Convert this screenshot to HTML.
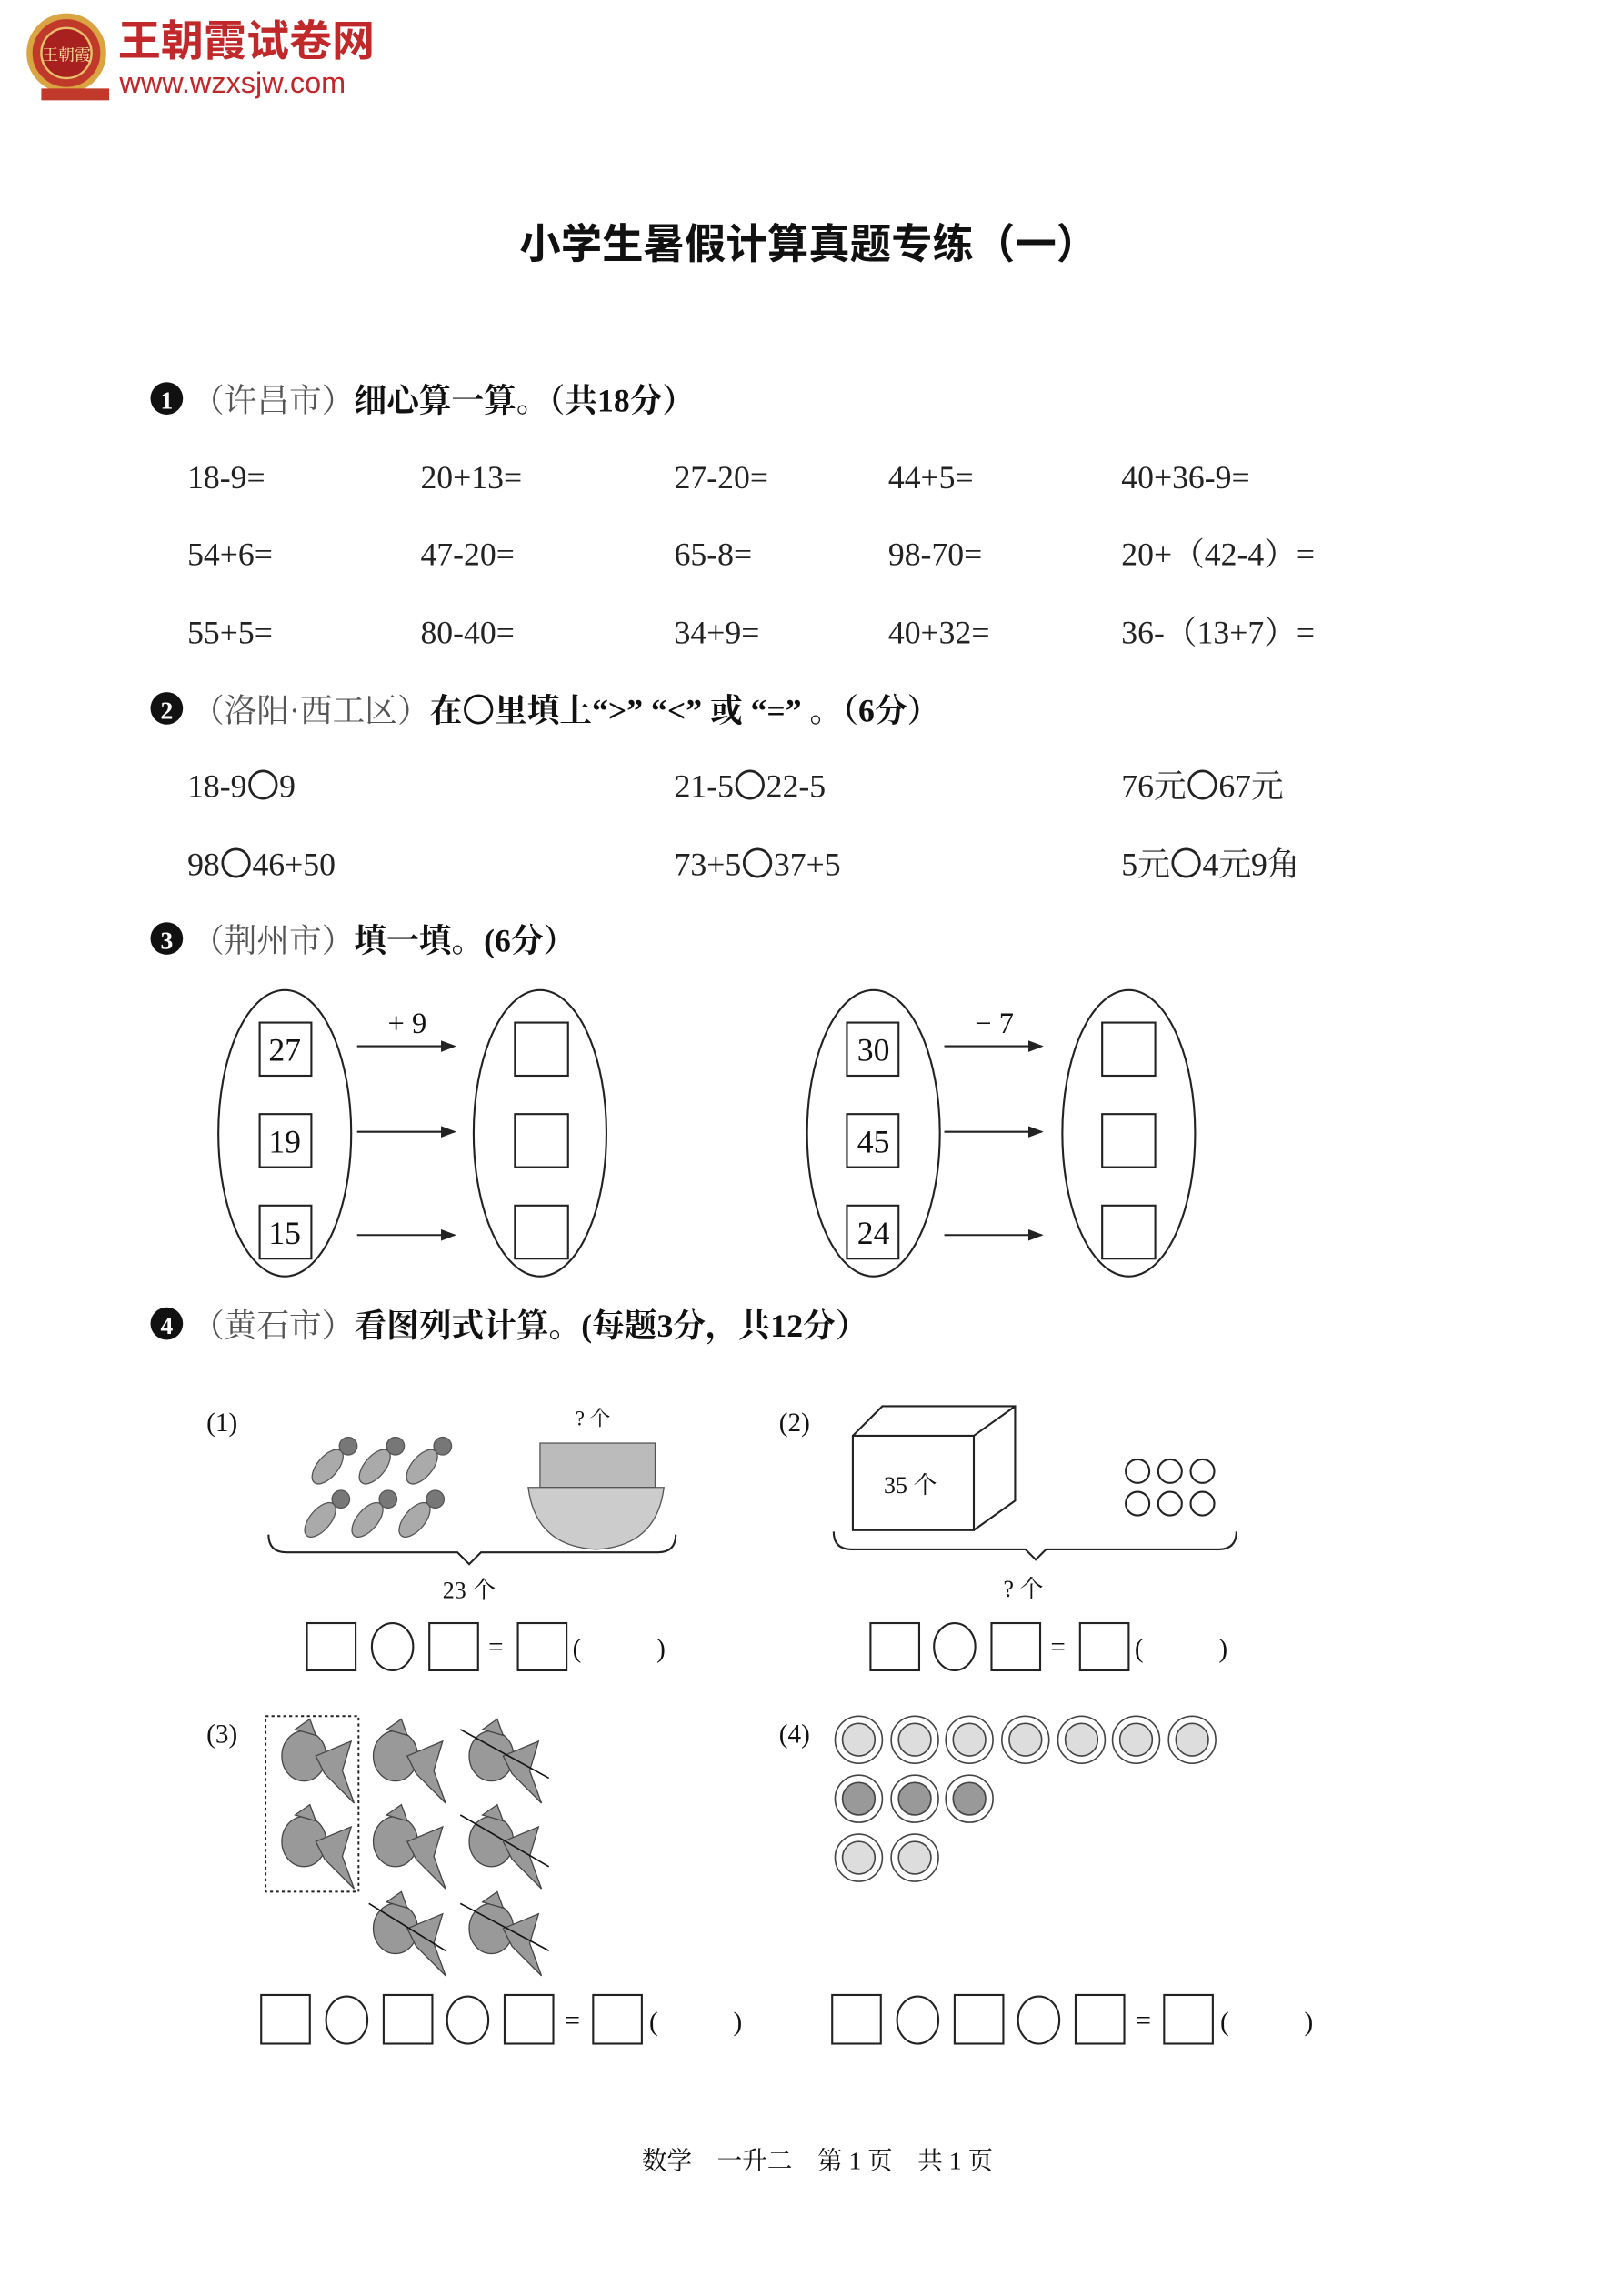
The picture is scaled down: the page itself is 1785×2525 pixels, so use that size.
<!DOCTYPE html>
<html><head><meta charset="utf-8"><style>
html,body{margin:0;padding:0;background:#fff;}
svg{display:block;}
text{font-family:"Liberation Serif","Noto Serif CJK SC",serif;fill:#111;}
.h{font-family:"Liberation Serif","Noto Serif CJK SC",serif;font-size:22px;}
.b{font-weight:bold;}
.g{fill:#555;}
.e{font-size:22px;fill:#222;}
.c{font-family:"Noto Sans CJK SC",sans-serif;font-weight:normal;}
.bx{fill:none;stroke:#222;stroke-width:1.3;}
</style></head><body>
<svg width="1785" height="2525" viewBox="0 0 1100 1556" preserveAspectRatio="none" xmlns="http://www.w3.org/2000/svg">
<circle cx="45" cy="36" r="25" fill="#c0392b" stroke="#d9a441" stroke-width="4"/>
<circle cx="45" cy="36" r="17" fill="#a82020" stroke="#e8c06a" stroke-width="1.5"/>
<text x="45" y="41" font-size="11" text-anchor="middle" style="fill:#ffe9a0">王朝霞</text>
<rect x="28" y="60" width="46" height="8" fill="#c0392b"/>
<text x="80" y="38" font-size="29" font-weight="bold" style="fill:#c0282a;font-family:'Noto Sans CJK SC',sans-serif">王朝霞试卷网</text>
<text x="81" y="63" font-size="20" style="fill:#c0282a;font-family:'Liberation Sans',sans-serif">www.wzxsjw.com</text>
<text x="548" y="175" font-size="28" font-weight="bold" text-anchor="middle" style="font-family:'Noto Sans CJK SC',sans-serif">小学生暑假计算真题专练（一）</text>
<circle cx="113" cy="270" r="11" fill="#111"/><text x="113" y="277" font-size="17" font-weight="bold" text-anchor="middle" style="fill:#fff">1</text>
<text x="130" y="279" class="h"><tspan class="g">（许昌市）</tspan><tspan class="b">细心算一算。（共18分）</tspan></text>
<g class="e">
<text x="127" y="331" class="e">18-9=</text><text x="285" y="331" class="e">20+13=</text><text x="457" y="331" class="e">27-20=</text><text x="602" y="331" class="e">44+5=</text><text x="760" y="331" class="e">40+36-9=</text>
<text x="127" y="383" class="e">54+6=</text><text x="285" y="383" class="e">47-20=</text><text x="457" y="383" class="e">65-8=</text><text x="602" y="383" class="e">98-70=</text><text x="760" y="383" class="e">20+（42-4）=</text>
<text x="127" y="436" class="e">55+5=</text><text x="285" y="436" class="e">80-40=</text><text x="457" y="436" class="e">34+9=</text><text x="602" y="436" class="e">40+32=</text><text x="760" y="436" class="e">36-（13+7）=</text>
</g>
<circle cx="113" cy="480" r="11" fill="#111"/><text x="113" y="487" font-size="17" font-weight="bold" text-anchor="middle" style="fill:#fff">2</text>
<text x="130" y="489" class="h"><tspan class="g">（洛阳·西工区）</tspan><tspan class="b">在<tspan class="c">〇</tspan>里填上“&gt;” “&lt;” 或 “=” 。（6分）</tspan></text>
<text x="127" y="540" class="e">18-9<tspan class="c">〇</tspan>9</text><text x="457" y="540" class="e">21-5<tspan class="c">〇</tspan>22-5</text><text x="760" y="540" class="e">76元<tspan class="c">〇</tspan>67元</text>
<text x="127" y="593" class="e">98<tspan class="c">〇</tspan>46+50</text><text x="457" y="593" class="e">73+5<tspan class="c">〇</tspan>37+5</text><text x="760" y="593" class="e">5元<tspan class="c">〇</tspan>4元9角</text>
<circle cx="113" cy="636" r="11" fill="#111"/><text x="113" y="643" font-size="17" font-weight="bold" text-anchor="middle" style="fill:#fff">3</text>
<text x="130" y="645" class="h"><tspan class="g">（荆州市）</tspan><tspan class="b">填一填。(6分）</tspan></text>
<defs><marker id="ar" markerWidth="8" markerHeight="6" refX="7" refY="3" orient="auto"><path d="M0,0 L8,3 L0,6 z" fill="#222"/></marker></defs>
<g class="bx">
<ellipse cx="193" cy="768" rx="45" ry="97"/><ellipse cx="366" cy="768" rx="45" ry="97"/>
<ellipse cx="592" cy="768" rx="45" ry="97"/><ellipse cx="765" cy="768" rx="45" ry="97"/>
<rect x="176" y="693" width="35" height="36"/><rect x="176" y="755" width="35" height="36"/><rect x="176" y="817" width="35" height="36"/>
<rect x="349" y="693" width="36" height="36"/><rect x="349" y="755" width="36" height="36"/><rect x="349" y="817" width="36" height="36"/>
<rect x="574" y="693" width="35" height="36"/><rect x="574" y="755" width="35" height="36"/><rect x="574" y="817" width="35" height="36"/>
<rect x="747" y="693" width="36" height="36"/><rect x="747" y="755" width="36" height="36"/><rect x="747" y="817" width="36" height="36"/>
<line x1="242" y1="709" x2="308" y2="709" marker-end="url(#ar)"/><line x1="242" y1="767" x2="308" y2="767" marker-end="url(#ar)"/><line x1="242" y1="837" x2="308" y2="837" marker-end="url(#ar)"/>
<line x1="640" y1="709" x2="706" y2="709" marker-end="url(#ar)"/><line x1="640" y1="767" x2="706" y2="767" marker-end="url(#ar)"/><line x1="640" y1="837" x2="706" y2="837" marker-end="url(#ar)"/>
</g>
<g font-size="22" text-anchor="middle">
<text x="193" y="719">27</text><text x="193" y="781">19</text><text x="193" y="843">15</text>
<text x="592" y="719">30</text><text x="592" y="781">45</text><text x="592" y="843">24</text>
<text x="276" y="700" font-size="20">+ 9</text><text x="674" y="700" font-size="20">− 7</text>
</g>
<circle cx="113" cy="897" r="11" fill="#111"/><text x="113" y="904" font-size="17" font-weight="bold" text-anchor="middle" style="fill:#fff">4</text>
<text x="130" y="906" class="h"><tspan class="g">（黄石市）</tspan><tspan class="b">看图列式计算。(每题3分，共12分）</tspan></text>
<text x="140" y="970" font-size="18">(1)</text>
<g fill="#aaa" stroke="#555" stroke-width="0.8">
<ellipse cx="222" cy="994" rx="7" ry="14" transform="rotate(40 222 994)"/><ellipse cx="254" cy="994" rx="7" ry="14" transform="rotate(40 254 994)"/><ellipse cx="286" cy="994" rx="7" ry="14" transform="rotate(40 286 994)"/>
<ellipse cx="217" cy="1030" rx="7" ry="14" transform="rotate(40 217 1030)"/><ellipse cx="249" cy="1030" rx="7" ry="14" transform="rotate(40 249 1030)"/><ellipse cx="281" cy="1030" rx="7" ry="14" transform="rotate(40 281 1030)"/>
<circle cx="236" cy="980" r="6" fill="#777"/><circle cx="268" cy="980" r="6" fill="#777"/><circle cx="300" cy="980" r="6" fill="#777"/>
<circle cx="231" cy="1016" r="6" fill="#777"/><circle cx="263" cy="1016" r="6" fill="#777"/><circle cx="295" cy="1016" r="6" fill="#777"/>
<rect x="366" y="978" width="78" height="30" fill="#bbb"/>
<path d="M358,1008 L450,1008 Q445,1048 404,1050 Q363,1048 358,1008 z" fill="#ccc"/>
</g>
<text x="390" y="966" font-size="14">?  个</text>
<path d="M182,1040 Q182,1052 194,1052 L310,1052 L318,1060 L326,1052 L446,1052 Q458,1052 458,1040" class="bx"/>
<text x="300" y="1083" font-size="16">23 个</text>
<text x="528" y="970" font-size="18">(2)</text>
<g class="bx"><rect x="578" y="973" width="82" height="64"/><path d="M578,973 L598,953 L688,953 L688,1017 L660,1037 M660,973 L688,953"/>
<circle cx="771" cy="997" r="8"/><circle cx="793" cy="997" r="8"/><circle cx="815" cy="997" r="8"/>
<circle cx="771" cy="1019" r="8"/><circle cx="793" cy="1019" r="8"/><circle cx="815" cy="1019" r="8"/>
<path d="M565,1038 Q565,1050 577,1050 L695,1050 L702,1057 L709,1050 L826,1050 Q838,1050 838,1038"/></g>
<text x="599" y="1012" font-size="16">35 个</text>
<text x="680" y="1082" font-size="16">?  个</text>
<g class="bx">
<rect x="208" y="1100" width="33" height="32"/><ellipse cx="266" cy="1116" rx="14" ry="16"/><rect x="291" y="1100" width="33" height="32"/><rect x="351" y="1100" width="33" height="32"/>
<rect x="590" y="1100" width="33" height="32"/><ellipse cx="647" cy="1116" rx="14" ry="16"/><rect x="672" y="1100" width="33" height="32"/><rect x="732" y="1100" width="33" height="32"/>
<rect x="177" y="1352" width="33" height="33"/><ellipse cx="235" cy="1369" rx="14" ry="16"/><rect x="260" y="1352" width="33" height="33"/><ellipse cx="317" cy="1369" rx="14" ry="16"/><rect x="342" y="1352" width="33" height="33"/><rect x="402" y="1352" width="33" height="33"/>
<rect x="564" y="1352" width="33" height="33"/><ellipse cx="622" cy="1369" rx="14" ry="16"/><rect x="647" y="1352" width="33" height="33"/><ellipse cx="704" cy="1369" rx="14" ry="16"/><rect x="729" y="1352" width="33" height="33"/><rect x="789" y="1352" width="33" height="33"/>
</g>
<g font-size="18">
<text x="331" y="1122">=</text><text x="388" y="1123">(</text><text x="445" y="1123">)</text>
<text x="712" y="1122">=</text><text x="769" y="1123">(</text><text x="826" y="1123">)</text>
<text x="383" y="1375">=</text><text x="440" y="1376">(</text><text x="497" y="1376">)</text>
<text x="770" y="1375">=</text><text x="827" y="1376">(</text><text x="884" y="1376">)</text>
</g>
<text x="140" y="1181" font-size="18">(3)</text>
<rect x="180" y="1163" width="63" height="119" fill="none" stroke="#222" stroke-width="1.2" stroke-dasharray="2,2"/>
<g fill="#999" stroke="#444" stroke-width="0.8">
<g id="f"><ellipse cx="206" cy="1190" rx="15" ry="17"/><path d="M214,1190 L238,1180 L232,1200 L240,1222 L220,1202 z"/><path d="M200,1172 L210,1165 L214,1176 z"/></g>
<use href="#f" x="0" y="58"/><use href="#f" x="62" y="0"/><use href="#f" x="62" y="58"/><use href="#f" x="127" y="0"/><use href="#f" x="127" y="58"/><use href="#f" x="62" y="117"/><use href="#f" x="127" y="117"/>
</g>
<g stroke="#111" stroke-width="1"><line x1="312" y1="1172" x2="372" y2="1205"/><line x1="312" y1="1230" x2="372" y2="1265"/><line x1="250" y1="1290" x2="302" y2="1322"/><line x1="312" y1="1290" x2="372" y2="1322"/></g>
<text x="528" y="1181" font-size="18">(4)</text>
<g stroke="#444" stroke-width="1">
<g fill="#fff"><circle cx="582" cy="1179" r="16"/><circle cx="620" cy="1179" r="16"/><circle cx="657" cy="1179" r="16"/><circle cx="695" cy="1179" r="16"/><circle cx="733" cy="1179" r="16"/><circle cx="770" cy="1179" r="16"/><circle cx="808" cy="1179" r="16"/>
<circle cx="582" cy="1219" r="16"/><circle cx="620" cy="1219" r="16"/><circle cx="657" cy="1219" r="16"/><circle cx="582" cy="1259" r="16"/><circle cx="620" cy="1259" r="16"/></g>
<g fill="#ddd"><circle cx="582" cy="1179" r="11"/><circle cx="620" cy="1179" r="11"/><circle cx="657" cy="1179" r="11"/><circle cx="695" cy="1179" r="11"/><circle cx="733" cy="1179" r="11"/><circle cx="770" cy="1179" r="11"/><circle cx="808" cy="1179" r="11"/><circle cx="582" cy="1259" r="11"/><circle cx="620" cy="1259" r="11"/></g>
<g fill="#999"><circle cx="582" cy="1219" r="11"/><circle cx="620" cy="1219" r="11"/><circle cx="657" cy="1219" r="11"/></g>
</g>
<text x="554" y="1470" font-size="17" text-anchor="middle">数学　一升二　第 1 页　共 1 页</text>
</svg>
</body></html>
